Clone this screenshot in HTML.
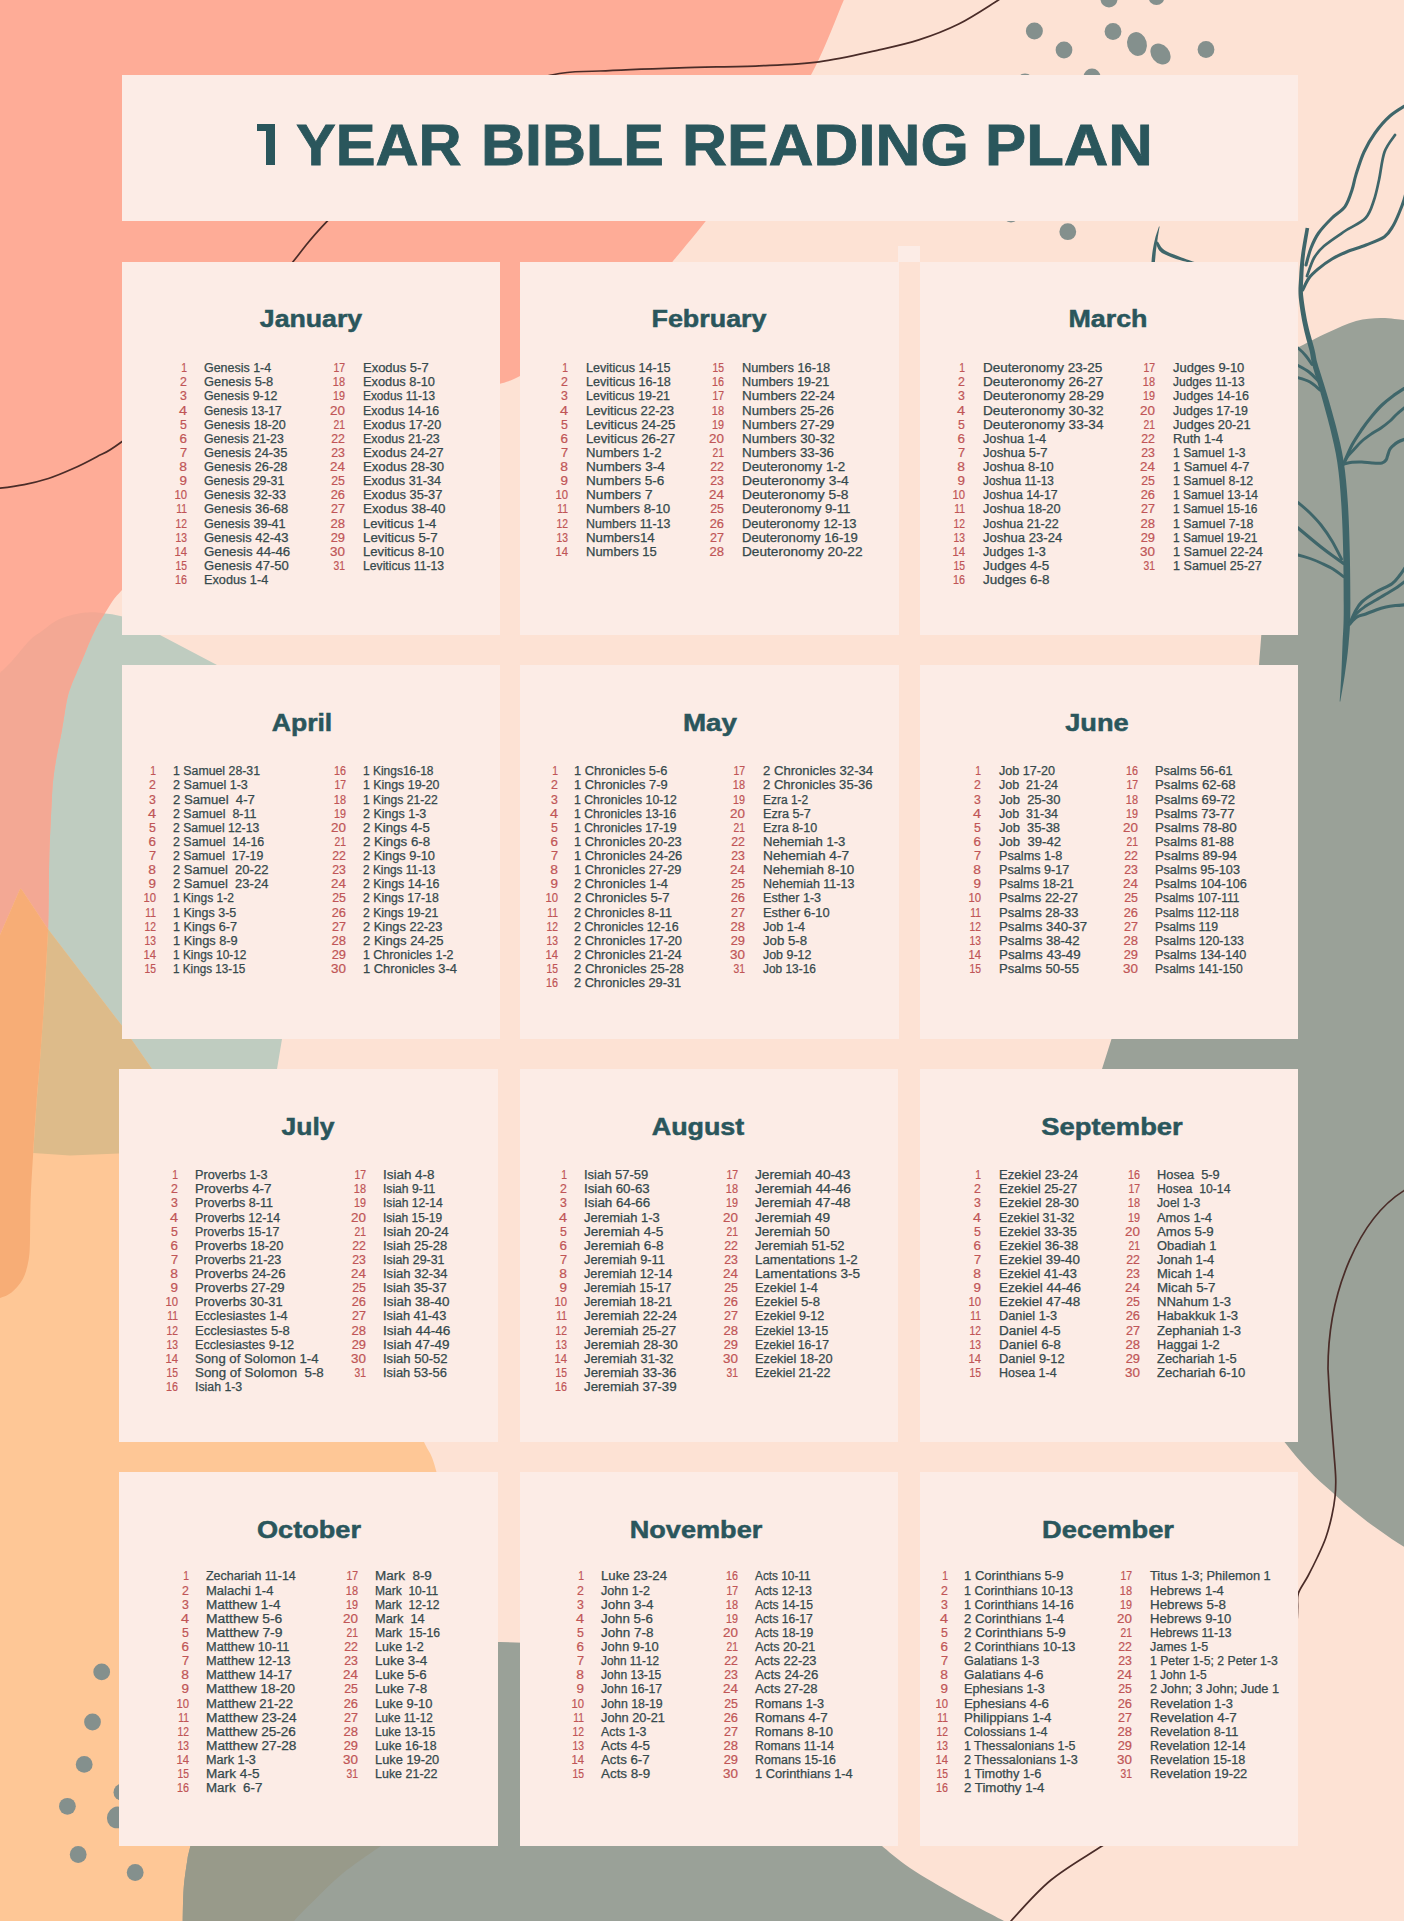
<!DOCTYPE html>
<html lang="en"><head><meta charset="utf-8"><title>1 Year Bible Reading Plan</title>
<style>
html,body{margin:0;padding:0}
body{width:1404px;height:1921px;overflow:hidden;background:#FDE2D4;font-family:"Liberation Sans",sans-serif}
#page{position:relative;width:1404px;height:1921px;overflow:hidden}
.bg{position:absolute;left:0;top:0}
.panel{position:absolute;background:#FCECE6;margin:0}
.sq{position:absolute;left:898px;top:246px;width:22px;height:16px;background:#FCECE6}
.title{position:absolute;left:0;top:115.1px;width:1404px;height:60px;margin:0;font-weight:bold;color:#2A565C;font-size:57.5px;line-height:60px;white-space:nowrap;-webkit-text-stroke:0.8px #2A565C}
.title span{position:absolute;top:0;display:block;transform-origin:0 50%}
.mh{-webkit-text-stroke:0.5px #2A565C;position:absolute;width:300px;height:40px;margin:0;text-align:center;font-weight:bold;font-size:24px;line-height:40px;color:#2A565C;white-space:nowrap}
.lst{position:absolute;list-style:none;margin:0;padding:0;font-size:12px;line-height:14.13px;color:#35494C;white-space:pre}
.lst li{height:14.13px;display:flex}
.lst b{display:block;width:30px;text-align:right;font-weight:normal;color:#C05556;margin-right:var(--g);transform-origin:100% 50%;-webkit-text-stroke:0.2px #C05556}
.lst span{display:block;transform-origin:0 50%;-webkit-text-stroke:0.25px #35494C}
.title .one{color:transparent;width:19px;-webkit-text-stroke:0 transparent}
.title .one::before{content:"";position:absolute;left:0;top:9.4px;width:18.2px;height:7px;background:#2A565C}
.title .one::after{content:"";position:absolute;left:8.6px;top:9.4px;width:9.6px;height:41px;background:#2A565C}

</style></head><body>
<div id="page">
<svg class="bg" width="1404" height="1921" viewBox="0 0 1404 1921">
<rect width="1404" height="1921" fill="#FDE2D4"/>
<path fill="#BFCCC0" d="M60.0,613.5 L104.8,613.5 L112.0,614.2 L121.5,616.2 L160.0,635.0 L217.0,665.0 L330.0,760.0 L380.0,900.0 L282.0,1039.0 L277.0,1069.0 L270.0,1156.0 L119.0,1153.6 L70.0,1155.5 L33.0,1152.5 L20.0,1000.0 L40.0,700.0 Z"/>
<path fill="#FEAC97" d="M0,0 L843.8,0 C838.3,12.5 824.6,50.3 811.0,75.0 C797.4,99.7 779.4,123.8 762.0,148.0 C744.6,172.2 721.6,201.0 706.6,220.0 C691.6,239.0 678.0,255.0 672.3,262.0 C661.9,270.5 628.7,298.3 610.0,313.0 C591.3,327.7 575.0,339.5 560.0,350.0 C545.0,360.5 530.0,370.4 520.0,376.0 C510.0,381.6 503.3,382.5 500.0,383.8 C380.4,434.5 187.6,514.5 122,590 C120.5,591.7 116.2,596.1 113.3,600.0 C110.4,603.9 107.4,609.3 104.8,613.5 C102.2,617.7 100.1,620.6 97.7,625.0 C95.3,629.4 92.9,634.7 90.5,640.0 C88.1,645.3 85.8,651.4 83.4,657.0 C81.0,662.6 78.3,668.6 76.3,673.4 C74.3,678.1 72.8,681.1 71.3,685.5 C69.8,689.9 68.6,692.5 67.0,700.0 C65.4,707.5 63.5,721.5 61.9,730.4 C60.3,739.3 58.7,745.7 57.3,753.3 C55.9,760.9 54.5,768.4 53.6,776.2 C52.7,784.0 52.5,786.0 51.8,800.0 C51.1,814.0 49.8,838.5 49.2,860.0 C48.6,881.5 48.9,906.0 48.1,929.3 C47.3,952.6 45.6,978.2 44.2,1000.0 C42.9,1021.8 41.2,1043.3 40.0,1060.0 C38.8,1076.7 37.8,1084.5 36.7,1100.0 C35.6,1115.5 34.2,1136.3 33.2,1153.0 C32.2,1169.7 31.1,1185.5 30.6,1200.0 C30.1,1214.5 30.3,1230.0 30.0,1240.0 C29.7,1250.0 29.8,1253.5 28.6,1260.0 C27.4,1266.5 25.9,1273.3 23.0,1278.7 C20.1,1284.1 15.3,1289.2 11.5,1292.4 C7.7,1295.6 1.9,1297.1 0.0,1298.0 Z"/>
<path fill="#F3A894" d="M0,673 C1.9,671.1 6.5,667.1 11.5,661.6 C16.5,656.1 25.1,644.9 30.0,640.0 C34.9,635.1 36.5,635.1 40.7,632.0 C44.9,628.9 50.2,624.1 55.0,621.4 C59.8,618.7 64.5,617.1 69.2,615.7 C73.9,614.3 79.3,613.4 83.4,612.8 C87.5,612.2 90.4,612.1 94.0,612.2 C97.6,612.3 103.0,613.3 104.8,613.5 C103.6,615.4 100.1,620.6 97.7,625.0 C95.3,629.4 92.9,634.7 90.5,640.0 C88.1,645.3 85.8,651.4 83.4,657.0 C81.0,662.6 78.3,668.6 76.3,673.4 C74.3,678.1 72.8,681.1 71.3,685.5 C69.8,689.9 68.6,692.5 67.0,700.0 C65.4,707.5 63.5,721.5 61.9,730.4 C60.3,739.3 58.7,745.7 57.3,753.3 C55.9,760.9 54.5,768.4 53.6,776.2 C52.7,784.0 52.5,786.0 51.8,800.0 C51.1,814.0 49.8,838.5 49.2,860.0 C48.6,881.5 48.9,906.0 48.1,929.3 C47.3,952.6 45.6,978.2 44.2,1000.0 C42.9,1021.8 41.2,1043.3 40.0,1060.0 C38.8,1076.7 37.8,1084.5 36.7,1100.0 C35.6,1115.5 34.2,1136.3 33.2,1153.0 C32.2,1169.7 31.1,1185.5 30.6,1200.0 C30.1,1214.5 30.3,1230.0 30.0,1240.0 C29.7,1250.0 29.8,1253.5 28.6,1260.0 C27.4,1266.5 25.9,1273.3 23.0,1278.7 C20.1,1284.1 15.3,1289.2 11.5,1292.4 C7.7,1295.6 1.9,1297.1 0.0,1298.0 Z"/>
<path fill="#FEC796" d="M0,935 L19.6,890 Q20.8,887.5 22,890 L48.1,929.3 L121.8,1025.6 L152.0,1069.0 L260.0,1210.0 L360.0,1340.0 L410.0,1412.0 C412.3,1417.0 419.6,1432.0 424.0,1442.0 C428.4,1452.0 431.8,1452.3 436.5,1472.0 C441.2,1491.7 451.4,1522.0 452.0,1560.0 C452.6,1598.0 451.9,1652.3 440.0,1700.0 C428.1,1747.7 397.1,1817.0 380.8,1846.0 C364.5,1875.0 353.2,1864.8 342.0,1874.0 C330.8,1883.2 321.5,1893.2 313.5,1901.0 C305.5,1908.8 297.2,1917.7 294.0,1921.0 L0,1921 Z"/>
<path fill="#DDBB8A" d="M48.1,929.3 L121.8,1025.6 L152,1069 L220,1156 L119,1153.6 L70,1155.5 L33.2,1153 L36.7,1100 L40,1060 L44.2,1000 Z"/>
<path fill="#F7AD76" d="M0,935 L19.6,890 Q20.8,887.5 22,890 L48.1,929.3 C47.5,941.1 45.6,978.2 44.2,1000.0 C42.9,1021.8 41.2,1043.3 40.0,1060.0 C38.8,1076.7 37.8,1084.5 36.7,1100.0 C35.6,1115.5 34.2,1136.3 33.2,1153.0 C32.2,1169.7 31.1,1185.5 30.6,1200.0 C30.1,1214.5 30.3,1230.0 30.0,1240.0 C29.7,1250.0 29.8,1253.5 28.6,1260.0 C27.4,1266.5 25.9,1273.3 23.0,1278.7 C20.1,1284.1 15.3,1289.2 11.5,1292.4 C7.7,1295.6 1.9,1297.1 0.0,1298.0 Z"/>
<path fill="#9AA198" d="M1298,347.6 C1303.0,345.1 1318.3,337.0 1328.0,332.6 C1337.7,328.2 1347.2,323.4 1356.0,321.0 C1364.8,318.6 1372.7,318.2 1380.7,318.0 C1388.7,317.8 1400.1,319.7 1404.0,320.0 L1416,1554 C1414.0,1552.8 1408.0,1549.2 1404.0,1546.7 C1400.0,1544.2 1395.8,1541.7 1391.7,1539.0 C1387.7,1536.3 1383.7,1533.3 1379.7,1530.5 C1375.7,1527.7 1371.7,1525.0 1367.7,1522.0 C1363.7,1519.0 1359.8,1515.8 1355.8,1512.6 C1351.8,1509.4 1348.0,1506.4 1344.0,1503.0 C1340.0,1499.6 1336.0,1495.6 1332.0,1492.0 C1328.0,1488.4 1324.0,1485.2 1320.0,1481.5 C1316.0,1477.8 1312.0,1473.7 1308.0,1469.5 C1304.0,1465.3 1299.9,1460.9 1296.0,1456.3 C1292.1,1451.7 1288.5,1446.7 1284.5,1442.0 C1280.5,1437.3 1274.1,1430.3 1272.0,1428.0 L1200,1300 L1102,1069 L1111.5,1039 L1259,665 L1261.3,635 L1280,500 Z"/>
<path fill="#9AA198" d="M182.5,1935 C182.5,1932.7 182.5,1928.8 182.7,1921.0 C182.9,1913.2 182.9,1898.3 183.7,1888.0 C184.5,1877.7 186.4,1866.0 187.5,1859.0 C188.6,1852.0 187.5,1859.2 190.4,1846.0 C193.3,1832.8 193.4,1804.3 205.0,1780.0 C216.6,1755.7 234.2,1721.7 260.0,1700.0 C285.8,1678.3 320.0,1659.7 360.0,1650.0 C400.0,1640.3 476.7,1643.3 500.0,1642.0 L530,1643 L700,1660 L882,1846 C886.7,1849.7 897.5,1859.7 910.0,1868.0 C922.5,1876.3 941.3,1887.2 957.0,1896.0 C972.7,1904.8 996.2,1916.8 1004.0,1921.0 Z"/>
<path fill="#989A8A" d="M182.5,1935 C182.5,1932.7 182.5,1928.8 182.7,1921.0 C182.9,1913.2 182.9,1898.3 183.7,1888.0 C184.5,1877.7 186.4,1866.0 187.5,1859.0 C188.6,1852.0 189.9,1848.2 190.4,1846.0 L380.8,1846 C374.3,1850.7 353.2,1864.8 342.0,1874.0 C330.8,1883.2 321.5,1893.2 313.5,1901.0 C305.5,1908.8 298.8,1915.3 294.0,1921.0 C289.2,1926.7 286.5,1932.7 285.0,1935.0 Z"/>
<circle cx="1034.4" cy="31" r="8.5" fill="#84908D"/>
<circle cx="1064" cy="50" r="8.4" fill="#84908D"/>
<circle cx="1113" cy="31.5" r="8.4" fill="#84908D"/>
<circle cx="1206" cy="49.5" r="8.4" fill="#84908D"/>
<circle cx="1109" cy="-1" r="8.5" fill="#84908D"/>
<circle cx="1156.5" cy="-3" r="8" fill="#84908D"/>
<circle cx="1025" cy="82" r="8.5" fill="#84908D"/>
<circle cx="1092" cy="77" r="8.5" fill="#84908D"/>
<circle cx="1067.8" cy="231.7" r="8.4" fill="#84908D"/>
<circle cx="1011" cy="214" r="8.5" fill="#84908D"/>
<circle cx="101.7" cy="1671.9" r="8.4" fill="#84908D"/>
<circle cx="92.5" cy="1722" r="8.4" fill="#84908D"/>
<circle cx="84.2" cy="1764.4" r="8.4" fill="#84908D"/>
<circle cx="67.4" cy="1806.3" r="8.4" fill="#84908D"/>
<circle cx="78.2" cy="1854.5" r="8.4" fill="#84908D"/>
<circle cx="135.2" cy="1872.5" r="8.4" fill="#84908D"/>
<circle cx="122" cy="1792.3" r="8.5" fill="#84908D"/>
<ellipse cx="1137" cy="44" rx="9.8" ry="12" fill="#84908D" transform="rotate(-15 1137 44)"/>
<ellipse cx="1160.5" cy="54" rx="9" ry="11.5" fill="#84908D" transform="rotate(-40 1160.5 54)"/>
<ellipse cx="117" cy="1817.4" rx="10" ry="11" fill="#84908D" transform="rotate(20 117 1817.4)"/>
<path fill="none" stroke="#4A2C28" stroke-width="1.7" d="M-20.0,490.0 C-16.7,489.7 -7.4,489.1 0.0,488.2 C7.4,487.3 16.1,486.2 24.2,484.6 C32.3,483.0 40.3,481.1 48.4,478.5 C56.5,475.9 64.6,472.4 72.7,468.8 C80.8,465.2 88.8,461.1 96.9,456.7 C105.0,452.3 103.9,454.8 121.1,442.2 C138.3,429.6 171.3,411.1 200.0,381.0 C228.7,350.9 271.8,288.4 293.0,261.8 C314.2,235.2 309.2,239.9 327.0,221.3 C344.8,202.7 376.2,170.2 400.0,150.0 C423.8,129.8 444.7,112.5 470.0,100.0 C495.3,87.5 530.2,79.8 551.8,75.0 C573.4,70.2 578.4,72.2 599.7,71.0 C621.0,69.8 652.9,68.7 679.4,67.8 C705.9,66.9 735.7,66.8 759.0,65.8 C782.3,64.8 799.0,64.5 819.0,61.8 C839.0,59.1 862.4,53.5 879.0,49.9 C895.6,46.2 905.5,44.2 918.8,39.9 C932.1,35.6 945.4,30.6 958.7,24.0 C972.0,17.4 988.3,6.3 998.5,0.0 C1008.7,-6.3 1016.4,-11.7 1020.0,-14.0"/>
<path fill="none" stroke="#4A2C28" stroke-width="1.7" d="M1428,1174 L1404,1190.6 C1360,1218 1328,1290 1328,1368.7 C1328.3,1373.9 1329.1,1389.6 1329.8,1400.0 C1330.5,1410.4 1331.5,1422.0 1332.2,1431.0 C1332.9,1440.0 1333.4,1446.2 1334.0,1454.0 C1334.6,1461.8 1335.5,1470.8 1335.7,1478.0 C1335.9,1485.2 1335.7,1490.7 1335.0,1497.0 C1334.3,1503.3 1333.3,1509.2 1331.8,1516.0 C1330.3,1522.8 1328.2,1530.9 1325.8,1537.7 C1323.4,1544.5 1320.5,1550.6 1317.5,1557.0 C1314.5,1563.4 1311.2,1569.9 1308.0,1576.0 C1304.8,1582.1 1300.0,1588.1 1298.3,1593.4 C1296.6,1598.7 1297.9,1602.7 1297.6,1608.0 C1297.3,1613.3 1297.9,1613.0 1296.6,1625.0 C1295.3,1637.0 1301.1,1655.8 1290.0,1680.0 C1278.9,1704.2 1253.3,1747.5 1230.0,1770.0 C1206.7,1792.5 1171.3,1802.3 1150.0,1815.0 C1128.7,1827.7 1118.5,1835.2 1102.0,1846.0 C1085.5,1856.8 1066.2,1867.5 1051.0,1880.0 C1035.8,1892.5 1019.5,1911.8 1011.0,1921.0 C1002.5,1930.2 1001.8,1932.7 1000.0,1935.0"/>
<path fill="#3F666A" d="M1305.6,227.7 C1304.9,232.2 1302.2,246.4 1301.1,254.8 C1300.0,263.1 1299.5,270.8 1299.1,277.9 C1298.7,285.0 1298.1,289.3 1298.7,297.2 C1299.4,305.1 1301.3,316.6 1303.1,325.5 C1304.8,334.4 1307.9,344.0 1309.5,350.6 C1311.0,357.2 1310.6,358.3 1312.4,365.2 C1314.2,372.1 1317.3,381.4 1320.2,391.8 C1323.1,402.2 1327.1,416.0 1330.0,427.7 C1332.8,439.5 1335.5,450.0 1337.3,462.5 C1339.2,475.0 1340.2,487.6 1341.2,502.7 C1342.2,517.8 1342.8,534.5 1343.2,553.1 C1343.6,571.6 1343.8,598.7 1343.7,614.0 C1343.6,629.2 1342.9,634.3 1342.5,644.4 C1342.1,654.5 1341.8,665.3 1341.3,674.8 C1340.8,684.3 1340.0,696.9 1339.7,701.4 L1340.3,701.4 C1341.0,697.1 1343.3,684.6 1344.7,675.2 C1346.1,665.7 1347.6,655.0 1348.5,644.8 C1349.4,634.6 1350.1,629.3 1350.3,614.0 C1350.5,598.7 1350.2,571.6 1349.8,552.9 C1349.4,534.3 1348.8,517.5 1347.8,502.3 C1346.8,487.0 1345.6,474.2 1343.7,461.5 C1341.7,448.8 1339.0,438.1 1336.0,426.3 C1333.0,414.4 1328.9,400.6 1325.8,390.2 C1322.7,379.8 1319.5,370.6 1317.6,363.8 C1315.7,357.0 1316.1,355.9 1314.5,349.4 C1312.9,342.8 1309.8,333.3 1307.9,324.5 C1306.1,315.7 1304.1,304.5 1303.3,296.8 C1302.5,289.1 1303.0,285.0 1303.3,278.1 C1303.6,271.2 1303.9,263.5 1304.9,255.2 C1305.9,246.9 1308.5,232.8 1309.2,228.3 Z"/>
<path fill="none" stroke="#3F666A" stroke-width="3.1" stroke-linecap="round" stroke-linejoin="round" d="M1306.0,265.0 C1306.8,262.2 1308.9,253.3 1311.0,248.0 C1313.1,242.7 1315.1,238.0 1318.6,233.0 C1322.1,228.0 1327.6,222.4 1332.0,218.0 C1336.4,213.6 1341.7,211.3 1345.0,206.6 C1348.3,201.9 1350.2,195.3 1352.0,190.0 C1353.8,184.7 1354.0,180.9 1356.0,174.6 C1358.0,168.3 1360.8,158.9 1364.0,152.0 C1367.2,145.1 1370.7,139.0 1375.0,133.0 C1379.3,127.0 1384.5,120.8 1390.0,116.0 C1395.5,111.2 1405.0,106.0 1408.0,104.0" />
<path fill="none" stroke="#3F666A" stroke-width="2.7" stroke-linecap="round" stroke-linejoin="round" d="M1307.0,276.0 C1308.2,273.0 1311.2,263.0 1314.0,258.0 C1316.8,253.0 1318.8,250.5 1324.0,246.0 C1329.2,241.5 1338.1,235.7 1345.0,231.0 C1351.9,226.3 1360.8,223.2 1365.6,218.0 C1370.4,212.8 1371.8,206.3 1374.0,200.0 C1376.2,193.7 1377.2,188.0 1379.0,180.0 C1380.8,172.0 1381.8,159.5 1384.5,152.0 C1387.2,144.5 1393.2,137.8 1395.0,135.0" />
<path fill="none" stroke="#3F666A" stroke-width="3.1" stroke-linecap="round" stroke-linejoin="round" d="M1302.7,290.0 C1303.8,288.0 1306.3,281.6 1309.0,278.0 C1311.7,274.4 1314.8,271.8 1318.6,268.6 C1322.4,265.4 1327.3,261.8 1332.0,259.0 C1336.7,256.2 1341.3,254.0 1347.0,251.7 C1352.7,249.4 1359.8,247.5 1366.0,245.0 C1372.2,242.5 1380.0,239.9 1384.5,236.7 C1389.0,233.5 1390.5,230.1 1393.0,226.0 C1395.5,221.9 1397.7,216.3 1399.5,212.0 C1401.3,207.7 1402.6,204.5 1404.0,200.0 C1405.4,195.5 1407.3,187.5 1408.0,185.0" />
<path fill="#3F666A" d="M1159.0,226.4 C1158.4,228.3 1156.4,233.9 1155.3,237.8 C1154.3,241.6 1153.4,245.8 1152.8,249.8 C1152.1,253.8 1151.7,259.2 1151.5,261.8 C1151.2,264.5 1151.3,265.2 1151.3,265.9 L1154.7,266.1 C1154.8,265.4 1154.7,264.8 1154.9,262.2 C1155.2,259.5 1155.6,254.2 1156.0,250.2 C1156.5,246.2 1157.1,242.2 1157.7,238.2 C1158.3,234.3 1159.3,228.5 1159.6,226.6 Z"/>
<path fill="#3F666A" d="M1155.7,242.6 C1156.2,243.9 1157.6,248.4 1159.2,250.4 C1160.8,252.4 1163.0,253.4 1165.1,254.6 C1167.3,255.8 1169.5,256.5 1172.1,257.4 C1174.6,258.4 1177.5,259.4 1180.5,260.3 C1183.5,261.2 1187.5,262.1 1190.2,262.8 C1192.9,263.4 1195.7,263.9 1196.8,264.1 L1197.2,262.9 C1196.1,262.6 1193.4,261.7 1190.8,260.8 C1188.2,259.9 1184.4,258.6 1181.5,257.5 C1178.6,256.4 1175.8,255.2 1173.3,254.2 C1170.9,253.2 1168.8,252.4 1166.9,251.4 C1165.0,250.4 1163.5,249.7 1162.0,248.0 C1160.5,246.4 1158.6,242.5 1157.9,241.4 Z"/>
<path fill="none" stroke="#3F666A" stroke-width="2.9" stroke-linecap="round" stroke-linejoin="round" d="M1290.0,343.0 C1291.3,343.8 1295.3,345.8 1298.0,348.0 C1300.7,350.2 1303.7,353.2 1306.0,356.0 C1308.3,358.8 1311.0,363.1 1312.0,364.5" />
<path fill="none" stroke="#3F666A" stroke-width="2.9" stroke-linecap="round" stroke-linejoin="round" d="M1290.0,362.0 C1291.3,362.6 1294.8,363.8 1298.0,365.5 C1301.2,367.2 1305.7,369.5 1309.0,372.0 C1312.3,374.5 1316.5,379.2 1318.0,380.7" />
<path fill="none" stroke="#3F666A" stroke-width="2.9" stroke-linecap="round" stroke-linejoin="round" d="M1290.0,376.5 C1291.3,376.7 1294.7,376.8 1298.0,377.7 C1301.3,378.6 1306.3,379.9 1310.0,382.0 C1313.7,384.1 1318.3,388.7 1320.0,390.0" />
<path fill="none" stroke="#3F666A" stroke-width="3.1" stroke-linecap="round" stroke-linejoin="round" d="M1343.5,464.0 C1344.9,460.8 1349.0,450.8 1352.0,445.0 C1355.0,439.2 1358.5,434.3 1361.8,429.5 C1365.1,424.7 1368.6,420.1 1372.0,416.0 C1375.4,411.9 1378.5,408.3 1382.0,405.0 C1385.5,401.7 1388.7,399.2 1393.0,396.0 C1397.3,392.8 1405.5,387.7 1408.0,386.0" />
<path fill="none" stroke="#3F666A" stroke-width="2.9" stroke-linecap="round" stroke-linejoin="round" d="M1343.5,464.0 C1344.2,462.7 1346.3,458.4 1348.0,456.0 C1349.7,453.6 1351.4,452.2 1353.7,449.7 C1356.0,447.2 1359.0,443.7 1362.0,441.0 C1365.0,438.3 1368.8,435.7 1372.0,433.5 C1375.2,431.3 1378.0,430.1 1381.0,428.0 C1384.0,425.9 1387.3,423.3 1390.0,421.0 C1392.7,418.7 1394.0,416.7 1397.0,414.0 C1400.0,411.3 1406.2,406.5 1408.0,405.0" />
<path fill="none" stroke="#3F666A" stroke-width="3.1" stroke-linecap="round" stroke-linejoin="round" d="M1343.5,464.0 C1344.9,463.7 1349.0,462.6 1352.0,462.3 C1355.0,462.0 1358.5,461.9 1361.8,462.0 C1365.1,462.1 1368.6,462.8 1372.0,463.0 C1375.4,463.2 1379.7,463.5 1382.0,463.0 C1384.3,462.5 1385.1,461.2 1386.0,460.0 C1386.9,458.8 1386.9,457.7 1387.5,456.0 C1388.1,454.3 1388.8,451.6 1389.5,450.0 C1390.2,448.4 1390.6,448.0 1392.0,446.7 C1393.4,445.4 1395.3,443.4 1398.0,442.0 C1400.7,440.6 1406.3,438.7 1408.0,438.0" />
<path fill="none" stroke="#3F666A" stroke-width="2.9" stroke-linecap="round" stroke-linejoin="round" d="M1290.0,497.0 C1291.3,497.9 1294.7,499.8 1298.0,502.5 C1301.3,505.2 1306.2,509.2 1310.0,513.0 C1313.8,516.8 1317.3,520.3 1321.0,525.0 C1324.7,529.7 1328.6,535.3 1332.0,541.0 C1335.4,546.7 1339.9,556.0 1341.5,559.0" />
<path fill="none" stroke="#3F666A" stroke-width="3.3" stroke-linecap="round" stroke-linejoin="round" d="M1290.0,522.0 C1291.3,523.0 1294.7,525.3 1298.0,528.0 C1301.3,530.7 1306.2,534.8 1310.0,538.0 C1313.8,541.2 1317.2,544.0 1321.0,547.0 C1324.8,550.0 1329.2,553.3 1333.0,556.0 C1336.8,558.7 1341.8,562.2 1343.5,563.4" />
<path fill="none" stroke="#3F666A" stroke-width="2.9" stroke-linecap="round" stroke-linejoin="round" d="M1290.0,553.5 C1291.3,553.8 1294.7,554.2 1298.0,555.0 C1301.3,555.8 1306.2,557.2 1310.0,558.5 C1313.8,559.8 1317.2,561.2 1321.0,563.0 C1324.8,564.8 1329.2,566.7 1333.0,569.0 C1336.8,571.3 1341.8,575.3 1343.5,576.6" />
<path fill="none" stroke="#3F666A" stroke-width="3.1" stroke-linecap="round" stroke-linejoin="round" d="M1349.6,624.0 C1350.5,622.0 1353.0,615.7 1355.0,612.0 C1357.0,608.3 1358.3,605.3 1361.8,602.0 C1365.3,598.7 1371.0,595.0 1376.0,592.0 C1381.0,589.0 1388.0,586.5 1392.0,583.7 C1396.0,580.9 1397.3,578.5 1400.0,575.0 C1402.7,571.5 1406.7,565.0 1408.0,563.0" />
<path fill="none" stroke="#3F666A" stroke-width="2.9" stroke-linecap="round" stroke-linejoin="round" d="M1349.6,624.0 C1350.8,622.2 1354.3,616.0 1357.0,613.0 C1359.7,610.0 1362.6,608.2 1365.8,606.0 C1369.0,603.8 1372.6,602.0 1376.0,600.0 C1379.4,598.0 1382.7,596.0 1386.0,594.0 C1389.3,592.0 1392.3,590.5 1396.0,588.0 C1399.7,585.5 1406.0,580.5 1408.0,579.0" />
<path fill="none" stroke="#3F666A" stroke-width="3.1" stroke-linecap="round" stroke-linejoin="round" d="M1349.6,624.0 C1350.8,622.8 1354.3,618.7 1357.0,617.0 C1359.7,615.3 1362.6,615.2 1365.8,614.0 C1369.0,612.8 1372.6,611.2 1376.0,610.0 C1379.4,608.8 1382.7,607.8 1386.0,607.0 C1389.3,606.2 1392.3,605.9 1396.0,605.5 C1399.7,605.1 1406.0,604.7 1408.0,604.5" />
</svg>
<div class="panel" style="left:122px;top:75px;width:1175.5px;height:145.6px"></div>
<div class="sq"></div>
<h1 class="title"><span class="one" style="left:257.1px">1</span> <span style="left:295.96px;transform:scaleX(1.0367)">YEAR</span> <span style="left:480.79px;transform:scaleX(1.0599)">BIBLE</span> <span style="left:681.50px;transform:scaleX(1.0822)">READING</span> <span style="left:984.95px;transform:scaleX(1.0727)">PLAN</span></h1>
<section class="panel" style="left:121.5px;top:262px;width:378.5px;height:373px"></section>
<h2 class="mh" style="left:161.1px;top:298.8px;transform:scaleX(1.111)">January</h2>
<ol class="lst" style="left:156.8px;top:361.24px;--g:17.7px"><li><b style="transform:scaleX(0.860)">1</b><span style="transform:scaleX(1.038)">Genesis 1-4</span></li><li><b style="transform:scaleX(1.030)">2</b><span style="transform:scaleX(1.070)">Genesis 5-8</span></li><li><b style="transform:scaleX(1.030)">3</b><span style="transform:scaleX(1.029)">Genesis 9-12</span></li><li><b style="transform:scaleX(1.207)">4</b><span style="transform:scaleX(0.994)">Genesis 13-17</span></li><li><b style="transform:scaleX(1.030)">5</b><span style="transform:scaleX(1.048)">Genesis 18-20</span></li><li><b style="transform:scaleX(1.119)">6</b><span style="transform:scaleX(1.022)">Genesis 21-23</span></li><li><b style="transform:scaleX(1.065)">7</b><span style="transform:scaleX(1.067)">Genesis 24-35</span></li><li><b style="transform:scaleX(1.154)">8</b><span style="transform:scaleX(1.070)">Genesis 26-28</span></li><li><b style="transform:scaleX(1.119)">9</b><span style="transform:scaleX(1.029)">Genesis 29-31</span></li><li><b style="transform:scaleX(0.941)">10</b><span style="transform:scaleX(1.052)">Genesis 32-33</span></li><li><b style="transform:scaleX(0.860)">11</b><span style="transform:scaleX(1.078)">Genesis 36-68</span></li><li><b style="transform:scaleX(0.860)">12</b><span style="transform:scaleX(1.045)">Genesis 39-41</span></li><li><b style="transform:scaleX(0.860)">13</b><span style="transform:scaleX(1.083)">Genesis 42-43</span></li><li><b style="transform:scaleX(0.941)">14</b><span style="transform:scaleX(1.105)">Genesis 44-46</span></li><li><b style="transform:scaleX(0.860)">15</b><span style="transform:scaleX(1.086)">Genesis 47-50</span></li><li><b style="transform:scaleX(0.897)">16</b><span style="transform:scaleX(1.058)">Exodus 1-4</span></li></ol>
<ol class="lst" style="left:315.3px;top:361.24px;--g:18.2px"><li><b style="transform:scaleX(0.870)">17</b><span style="transform:scaleX(1.081)">Exodus 5-7</span></li><li><b style="transform:scaleX(0.914)">18</b><span style="transform:scaleX(1.068)">Exodus 8-10</span></li><li><b style="transform:scaleX(0.897)">19</b><span style="transform:scaleX(0.985)">Exodus 11-13</span></li><li><b style="transform:scaleX(1.119)">20</b><span style="transform:scaleX(1.029)">Exodus 14-16</span></li><li><b style="transform:scaleX(0.860)">21</b><span style="transform:scaleX(1.056)">Exodus 17-20</span></li><li><b style="transform:scaleX(1.030)">22</b><span style="transform:scaleX(1.037)">Exodus 21-23</span></li><li><b style="transform:scaleX(1.030)">23</b><span style="transform:scaleX(1.088)">Exodus 24-27</span></li><li><b style="transform:scaleX(1.119)">24</b><span style="transform:scaleX(1.096)">Exodus 28-30</span></li><li><b style="transform:scaleX(1.030)">25</b><span style="transform:scaleX(1.053)">Exodus 31-34</span></li><li><b style="transform:scaleX(1.074)">26</b><span style="transform:scaleX(1.072)">Exodus 35-37</span></li><li><b style="transform:scaleX(1.048)">27</b><span style="transform:scaleX(1.112)">Exodus 38-40</span></li><li><b style="transform:scaleX(1.092)">28</b><span style="transform:scaleX(1.087)">Leviticus 1-4</span></li><li><b style="transform:scaleX(1.074)">29</b><span style="transform:scaleX(1.108)">Leviticus 5-7</span></li><li><b style="transform:scaleX(1.119)">30</b><span style="transform:scaleX(1.093)">Leviticus 8-10</span></li><li><b style="transform:scaleX(0.860)">31</b><span style="transform:scaleX(1.015)">Leviticus 11-13</span></li></ol>
<section class="panel" style="left:520px;top:262px;width:378.5px;height:373px"></section>
<h2 class="mh" style="left:559.2px;top:298.8px;transform:scaleX(1.120)">February</h2>
<ol class="lst" style="left:537.8px;top:361.24px;--g:18.2px"><li><b style="transform:scaleX(0.860)">1</b><span style="transform:scaleX(1.048)">Leviticus 14-15</span></li><li><b style="transform:scaleX(1.030)">2</b><span style="transform:scaleX(1.051)">Leviticus 16-18</span></li><li><b style="transform:scaleX(1.030)">3</b><span style="transform:scaleX(1.041)">Leviticus 19-21</span></li><li><b style="transform:scaleX(1.207)">4</b><span style="transform:scaleX(1.092)">Leviticus 22-23</span></li><li><b style="transform:scaleX(1.030)">5</b><span style="transform:scaleX(1.107)">Leviticus 24-25</span></li><li><b style="transform:scaleX(1.119)">6</b><span style="transform:scaleX(1.103)">Leviticus 26-27</span></li><li><b style="transform:scaleX(1.065)">7</b><span style="transform:scaleX(1.087)">Numbers 1-2</span></li><li><b style="transform:scaleX(1.154)">8</b><span style="transform:scaleX(1.138)">Numbers 3-4</span></li><li><b style="transform:scaleX(1.119)">9</b><span style="transform:scaleX(1.129)">Numbers 5-6</span></li><li><b style="transform:scaleX(0.941)">10</b><span style="transform:scaleX(1.133)">Numbers 7</span></li><li><b style="transform:scaleX(0.860)">11</b><span style="transform:scaleX(1.108)">Numbers 8-10</span></li><li><b style="transform:scaleX(0.860)">12</b><span style="transform:scaleX(1.031)">Numbers 11-13</span></li><li><b style="transform:scaleX(0.860)">13</b><span style="transform:scaleX(1.108)">Numbers14</span></li><li><b style="transform:scaleX(0.941)">14</b><span style="transform:scaleX(1.082)">Numbers 15</span></li></ol>
<ol class="lst" style="left:694.3px;top:361.24px;--g:17.7px"><li><b style="transform:scaleX(0.860)">15</b><span style="transform:scaleX(1.066)">Numbers 16-18</span></li><li><b style="transform:scaleX(0.897)">16</b><span style="transform:scaleX(1.056)">Numbers 19-21</span></li><li><b style="transform:scaleX(0.870)">17</b><span style="transform:scaleX(1.120)">Numbers 22-24</span></li><li><b style="transform:scaleX(0.914)">18</b><span style="transform:scaleX(1.113)">Numbers 25-26</span></li><li><b style="transform:scaleX(0.897)">19</b><span style="transform:scaleX(1.116)">Numbers 27-29</span></li><li><b style="transform:scaleX(1.119)">20</b><span style="transform:scaleX(1.120)">Numbers 30-32</span></li><li><b style="transform:scaleX(0.860)">21</b><span style="transform:scaleX(1.113)">Numbers 33-36</span></li><li><b style="transform:scaleX(1.030)">22</b><span style="transform:scaleX(1.113)">Deuteronomy 1-2</span></li><li><b style="transform:scaleX(1.030)">23</b><span style="transform:scaleX(1.152)">Deuteronomy 3-4</span></li><li><b style="transform:scaleX(1.119)">24</b><span style="transform:scaleX(1.148)">Deuteronomy 5-8</span></li><li><b style="transform:scaleX(1.030)">25</b><span style="transform:scaleX(1.100)">Deuteronomy 9-11</span></li><li><b style="transform:scaleX(1.074)">26</b><span style="transform:scaleX(1.080)">Deuteronomy 12-13</span></li><li><b style="transform:scaleX(1.048)">27</b><span style="transform:scaleX(1.092)">Deuteronomy 16-19</span></li><li><b style="transform:scaleX(1.092)">28</b><span style="transform:scaleX(1.136)">Deuteronomy 20-22</span></li></ol>
<section class="panel" style="left:920px;top:262px;width:378px;height:373px"></section>
<h2 class="mh" style="left:958.2px;top:298.8px;transform:scaleX(1.118)">March</h2>
<ol class="lst" style="left:934.8px;top:361.24px;--g:18.2px"><li><b style="transform:scaleX(0.860)">1</b><span style="transform:scaleX(1.125)">Deuteronomy 23-25</span></li><li><b style="transform:scaleX(1.030)">2</b><span style="transform:scaleX(1.133)">Deuteronomy 26-27</span></li><li><b style="transform:scaleX(1.030)">3</b><span style="transform:scaleX(1.139)">Deuteronomy 28-29</span></li><li><b style="transform:scaleX(1.207)">4</b><span style="transform:scaleX(1.136)">Deuteronomy 30-32</span></li><li><b style="transform:scaleX(1.030)">5</b><span style="transform:scaleX(1.136)">Deuteronomy 33-34</span></li><li><b style="transform:scaleX(1.119)">6</b><span style="transform:scaleX(1.062)">Joshua 1-4</span></li><li><b style="transform:scaleX(1.065)">7</b><span style="transform:scaleX(1.086)">Joshua 5-7</span></li><li><b style="transform:scaleX(1.154)">8</b><span style="transform:scaleX(1.071)">Joshua 8-10</span></li><li><b style="transform:scaleX(1.119)">9</b><span style="transform:scaleX(0.987)">Joshua 11-13</span></li><li><b style="transform:scaleX(0.941)">10</b><span style="transform:scaleX(1.027)">Joshua 14-17</span></li><li><b style="transform:scaleX(0.860)">11</b><span style="transform:scaleX(1.067)">Joshua 18-20</span></li><li><b style="transform:scaleX(0.860)">12</b><span style="transform:scaleX(1.040)">Joshua 21-22</span></li><li><b style="transform:scaleX(0.860)">13</b><span style="transform:scaleX(1.089)">Joshua 23-24</span></li><li><b style="transform:scaleX(0.941)">14</b><span style="transform:scaleX(1.056)">Judges 1-3</span></li><li><b style="transform:scaleX(0.860)">15</b><span style="transform:scaleX(1.116)">Judges 4-5</span></li><li><b style="transform:scaleX(0.897)">16</b><span style="transform:scaleX(1.120)">Judges 6-8</span></li></ol>
<ol class="lst" style="left:1125.3px;top:361.24px;--g:17.7px"><li><b style="transform:scaleX(0.870)">17</b><span style="transform:scaleX(1.080)">Judges 9-10</span></li><li><b style="transform:scaleX(0.914)">18</b><span style="transform:scaleX(0.998)">Judges 11-13</span></li><li><b style="transform:scaleX(0.897)">19</b><span style="transform:scaleX(1.043)">Judges 14-16</span></li><li><b style="transform:scaleX(1.119)">20</b><span style="transform:scaleX(1.030)">Judges 17-19</span></li><li><b style="transform:scaleX(0.860)">21</b><span style="transform:scaleX(1.067)">Judges 20-21</span></li><li><b style="transform:scaleX(1.030)">22</b><span style="transform:scaleX(1.084)">Ruth 1-4</span></li><li><b style="transform:scaleX(1.030)">23</b><span style="transform:scaleX(1.016)">1 Samuel 1-3</span></li><li><b style="transform:scaleX(1.119)">24</b><span style="transform:scaleX(1.069)">1 Samuel 4-7</span></li><li><b style="transform:scaleX(1.030)">25</b><span style="transform:scaleX(1.028)">1 Samuel 8-12</span></li><li><b style="transform:scaleX(1.074)">26</b><span style="transform:scaleX(1.004)">1 Samuel 13-14</span></li><li><b style="transform:scaleX(1.048)">27</b><span style="transform:scaleX(0.997)">1 Samuel 15-16</span></li><li><b style="transform:scaleX(1.092)">28</b><span style="transform:scaleX(1.031)">1 Samuel 7-18</span></li><li><b style="transform:scaleX(1.074)">29</b><span style="transform:scaleX(0.997)">1 Samuel 19-21</span></li><li><b style="transform:scaleX(1.119)">30</b><span style="transform:scaleX(1.060)">1 Samuel 22-24</span></li><li><b style="transform:scaleX(0.860)">31</b><span style="transform:scaleX(1.049)">1 Samuel 25-27</span></li></ol>
<section class="panel" style="left:121.5px;top:665px;width:378.5px;height:374px"></section>
<h2 class="mh" style="left:152.0px;top:702.5px;transform:scaleX(1.107)">April</h2>
<ol class="lst" style="left:125.8px;top:764.33px;--g:17.7px"><li><b style="transform:scaleX(0.860)">1</b><span style="transform:scaleX(1.028)">1 Samuel 28-31</span></li><li><b style="transform:scaleX(1.030)">2</b><span style="transform:scaleX(1.049)">2 Samuel 1-3</span></li><li><b style="transform:scaleX(1.030)">3</b><span style="transform:scaleX(1.096)">2 Samuel  4-7</span></li><li><b style="transform:scaleX(1.207)">4</b><span style="transform:scaleX(1.036)">2 Samuel  8-11</span></li><li><b style="transform:scaleX(1.030)">5</b><span style="transform:scaleX(1.018)">2 Samuel 12-13</span></li><li><b style="transform:scaleX(1.119)">6</b><span style="transform:scaleX(1.036)">2 Samuel  14-16</span></li><li><b style="transform:scaleX(1.065)">7</b><span style="transform:scaleX(1.025)">2 Samuel  17-19</span></li><li><b style="transform:scaleX(1.154)">8</b><span style="transform:scaleX(1.083)">2 Samuel  20-22</span></li><li><b style="transform:scaleX(1.119)">9</b><span style="transform:scaleX(1.083)">2 Samuel  23-24</span></li><li><b style="transform:scaleX(0.941)">10</b><span style="transform:scaleX(1.003)">1 Kings 1-2</span></li><li><b style="transform:scaleX(0.860)">11</b><span style="transform:scaleX(1.042)">1 Kings 3-5</span></li><li><b style="transform:scaleX(0.860)">12</b><span style="transform:scaleX(1.056)">1 Kings 6-7</span></li><li><b style="transform:scaleX(0.860)">13</b><span style="transform:scaleX(1.066)">1 Kings 8-9</span></li><li><b style="transform:scaleX(0.941)">14</b><span style="transform:scaleX(0.992)">1 Kings 10-12</span></li><li><b style="transform:scaleX(0.860)">15</b><span style="transform:scaleX(0.976)">1 Kings 13-15</span></li></ol>
<ol class="lst" style="left:316.3px;top:764.33px;--g:17.2px"><li><b style="transform:scaleX(0.897)">16</b><span style="transform:scaleX(0.997)">1 Kings16-18</span></li><li><b style="transform:scaleX(0.870)">17</b><span style="transform:scaleX(1.032)">1 Kings 19-20</span></li><li><b style="transform:scaleX(0.914)">18</b><span style="transform:scaleX(1.008)">1 Kings 21-22</span></li><li><b style="transform:scaleX(0.897)">19</b><span style="transform:scaleX(1.042)">2 Kings 1-3</span></li><li><b style="transform:scaleX(1.119)">20</b><span style="transform:scaleX(1.101)">2 Kings 4-5</span></li><li><b style="transform:scaleX(0.860)">21</b><span style="transform:scaleX(1.105)">2 Kings 6-8</span></li><li><b style="transform:scaleX(1.030)">22</b><span style="transform:scaleX(1.068)">2 Kings 9-10</span></li><li><b style="transform:scaleX(1.030)">23</b><span style="transform:scaleX(0.988)">2 Kings 11-13</span></li><li><b style="transform:scaleX(1.119)">24</b><span style="transform:scaleX(1.032)">2 Kings 14-16</span></li><li><b style="transform:scaleX(1.030)">25</b><span style="transform:scaleX(1.023)">2 Kings 17-18</span></li><li><b style="transform:scaleX(1.074)">26</b><span style="transform:scaleX(1.016)">2 Kings 19-21</span></li><li><b style="transform:scaleX(1.048)">27</b><span style="transform:scaleX(1.072)">2 Kings 22-23</span></li><li><b style="transform:scaleX(1.092)">28</b><span style="transform:scaleX(1.088)">2 Kings 24-25</span></li><li><b style="transform:scaleX(1.074)">29</b><span style="transform:scaleX(1.035)">1 Chronicles 1-2</span></li><li><b style="transform:scaleX(1.119)">30</b><span style="transform:scaleX(1.075)">1 Chronicles 3-4</span></li></ol>
<section class="panel" style="left:520px;top:665px;width:378.5px;height:374px"></section>
<h2 class="mh" style="left:559.8px;top:702.5px;transform:scaleX(1.157)">May</h2>
<ol class="lst" style="left:527.8px;top:764.33px;--g:16.2px"><li><b style="transform:scaleX(0.860)">1</b><span style="transform:scaleX(1.069)">1 Chronicles 5-6</span></li><li><b style="transform:scaleX(1.030)">2</b><span style="transform:scaleX(1.071)">1 Chronicles 7-9</span></li><li><b style="transform:scaleX(1.030)">3</b><span style="transform:scaleX(1.022)">1 Chronicles 10-12</span></li><li><b style="transform:scaleX(1.207)">4</b><span style="transform:scaleX(1.016)">1 Chronicles 13-16</span></li><li><b style="transform:scaleX(1.030)">5</b><span style="transform:scaleX(1.019)">1 Chronicles 17-19</span></li><li><b style="transform:scaleX(1.119)">6</b><span style="transform:scaleX(1.069)">1 Chronicles 20-23</span></li><li><b style="transform:scaleX(1.065)">7</b><span style="transform:scaleX(1.075)">1 Chronicles 24-26</span></li><li><b style="transform:scaleX(1.154)">8</b><span style="transform:scaleX(1.066)">1 Chronicles 27-29</span></li><li><b style="transform:scaleX(1.119)">9</b><span style="transform:scaleX(1.075)">2 Chronicles 1-4</span></li><li><b style="transform:scaleX(0.941)">10</b><span style="transform:scaleX(1.092)">2 Chronicles 5-7</span></li><li><b style="transform:scaleX(0.860)">11</b><span style="transform:scaleX(1.053)">2 Chronicles 8-11</span></li><li><b style="transform:scaleX(0.860)">12</b><span style="transform:scaleX(1.040)">2 Chronicles 12-16</span></li><li><b style="transform:scaleX(0.860)">13</b><span style="transform:scaleX(1.072)">2 Chronicles 17-20</span></li><li><b style="transform:scaleX(0.941)">14</b><span style="transform:scaleX(1.069)">2 Chronicles 21-24</span></li><li><b style="transform:scaleX(0.860)">15</b><span style="transform:scaleX(1.089)">2 Chronicles 25-28</span></li><li><b style="transform:scaleX(0.897)">16</b><span style="transform:scaleX(1.064)">2 Chronicles 29-31</span></li></ol>
<ol class="lst" style="left:715.3px;top:764.33px;--g:17.7px"><li><b style="transform:scaleX(0.870)">17</b><span style="transform:scaleX(1.093)">2 Chronicles 32-34</span></li><li><b style="transform:scaleX(0.914)">18</b><span style="transform:scaleX(1.087)">2 Chronicles 35-36</span></li><li><b style="transform:scaleX(0.897)">19</b><span style="transform:scaleX(0.998)">Ezra 1-2</span></li><li><b style="transform:scaleX(1.119)">20</b><span style="transform:scaleX(1.056)">Ezra 5-7</span></li><li><b style="transform:scaleX(0.860)">21</b><span style="transform:scaleX(1.041)">Ezra 8-10</span></li><li><b style="transform:scaleX(1.030)">22</b><span style="transform:scaleX(1.093)">Nehemiah 1-3</span></li><li><b style="transform:scaleX(1.030)">23</b><span style="transform:scaleX(1.143)">Nehemiah 4-7</span></li><li><b style="transform:scaleX(1.119)">24</b><span style="transform:scaleX(1.112)">Nehemiah 8-10</span></li><li><b style="transform:scaleX(1.030)">25</b><span style="transform:scaleX(1.040)">Nehemiah 11-13</span></li><li><b style="transform:scaleX(1.074)">26</b><span style="transform:scaleX(1.049)">Esther 1-3</span></li><li><b style="transform:scaleX(1.048)">27</b><span style="transform:scaleX(1.075)">Esther 6-10</span></li><li><b style="transform:scaleX(1.092)">28</b><span style="transform:scaleX(1.051)">Job 1-4</span></li><li><b style="transform:scaleX(1.074)">29</b><span style="transform:scaleX(1.101)">Job 5-8</span></li><li><b style="transform:scaleX(1.119)">30</b><span style="transform:scaleX(1.035)">Job 9-12</span></li><li><b style="transform:scaleX(0.860)">31</b><span style="transform:scaleX(0.990)">Job 13-16</span></li></ol>
<section class="panel" style="left:920px;top:665px;width:378px;height:374px"></section>
<h2 class="mh" style="left:947.0px;top:702.5px;transform:scaleX(1.134)">June</h2>
<ol class="lst" style="left:951.3px;top:764.33px;--g:18.2px"><li><b style="transform:scaleX(0.860)">1</b><span style="transform:scaleX(1.050)">Job 17-20</span></li><li><b style="transform:scaleX(1.030)">2</b><span style="transform:scaleX(1.041)">Job  21-24</span></li><li><b style="transform:scaleX(1.030)">3</b><span style="transform:scaleX(1.082)">Job  25-30</span></li><li><b style="transform:scaleX(1.207)">4</b><span style="transform:scaleX(1.041)">Job  31-34</span></li><li><b style="transform:scaleX(1.030)">5</b><span style="transform:scaleX(1.076)">Job  35-38</span></li><li><b style="transform:scaleX(1.119)">6</b><span style="transform:scaleX(1.093)">Job  39-42</span></li><li><b style="transform:scaleX(1.065)">7</b><span style="transform:scaleX(1.056)">Psalms 1-8</span></li><li><b style="transform:scaleX(1.154)">8</b><span style="transform:scaleX(1.054)">Psalms 9-17</span></li><li><b style="transform:scaleX(1.119)">9</b><span style="transform:scaleX(1.019)">Psalms 18-21</span></li><li><b style="transform:scaleX(0.941)">10</b><span style="transform:scaleX(1.076)">Psalms 22-27</span></li><li><b style="transform:scaleX(0.860)">11</b><span style="transform:scaleX(1.084)">Psalms 28-33</span></li><li><b style="transform:scaleX(0.860)">12</b><span style="transform:scaleX(1.102)">Psalms 340-37</span></li><li><b style="transform:scaleX(0.860)">13</b><span style="transform:scaleX(1.100)">Psalms 38-42</span></li><li><b style="transform:scaleX(0.941)">14</b><span style="transform:scaleX(1.113)">Psalms 43-49</span></li><li><b style="transform:scaleX(0.860)">15</b><span style="transform:scaleX(1.089)">Psalms 50-55</span></li></ol>
<ol class="lst" style="left:1107.8px;top:764.33px;--g:17.7px"><li><b style="transform:scaleX(0.897)">16</b><span style="transform:scaleX(1.056)">Psalms 56-61</span></li><li><b style="transform:scaleX(0.870)">17</b><span style="transform:scaleX(1.100)">Psalms 62-68</span></li><li><b style="transform:scaleX(0.914)">18</b><span style="transform:scaleX(1.092)">Psalms 69-72</span></li><li><b style="transform:scaleX(0.897)">19</b><span style="transform:scaleX(1.082)">Psalms 73-77</span></li><li><b style="transform:scaleX(1.119)">20</b><span style="transform:scaleX(1.114)">Psalms 78-80</span></li><li><b style="transform:scaleX(0.860)">21</b><span style="transform:scaleX(1.074)">Psalms 81-88</span></li><li><b style="transform:scaleX(1.030)">22</b><span style="transform:scaleX(1.116)">Psalms 89-94</span></li><li><b style="transform:scaleX(1.030)">23</b><span style="transform:scaleX(1.062)">Psalms 95-103</span></li><li><b style="transform:scaleX(1.119)">24</b><span style="transform:scaleX(1.059)">Psalms 104-106</span></li><li><b style="transform:scaleX(1.030)">25</b><span style="transform:scaleX(0.993)">Psalms 107-111</span></li><li><b style="transform:scaleX(1.074)">26</b><span style="transform:scaleX(0.986)">Psalms 112-118</span></li><li><b style="transform:scaleX(1.048)">27</b><span style="transform:scaleX(1.020)">Psalms 119</span></li><li><b style="transform:scaleX(1.092)">28</b><span style="transform:scaleX(1.025)">Psalms 120-133</span></li><li><b style="transform:scaleX(1.074)">29</b><span style="transform:scaleX(1.052)">Psalms 134-140</span></li><li><b style="transform:scaleX(1.119)">30</b><span style="transform:scaleX(1.011)">Psalms 141-150</span></li></ol>
<section class="panel" style="left:119px;top:1069px;width:379px;height:373px"></section>
<h2 class="mh" style="left:158.2px;top:1106.5px;transform:scaleX(1.104)">July</h2>
<ol class="lst" style="left:147.8px;top:1168.23px;--g:17.2px"><li><b style="transform:scaleX(0.860)">1</b><span style="transform:scaleX(1.057)">Proverbs 1-3</span></li><li><b style="transform:scaleX(1.030)">2</b><span style="transform:scaleX(1.113)">Proverbs 4-7</span></li><li><b style="transform:scaleX(1.030)">3</b><span style="transform:scaleX(1.047)">Proverbs 8-11</span></li><li><b style="transform:scaleX(1.207)">4</b><span style="transform:scaleX(1.038)">Proverbs 12-14</span></li><li><b style="transform:scaleX(1.030)">5</b><span style="transform:scaleX(1.027)">Proverbs 15-17</span></li><li><b style="transform:scaleX(1.119)">6</b><span style="transform:scaleX(1.077)">Proverbs 18-20</span></li><li><b style="transform:scaleX(1.065)">7</b><span style="transform:scaleX(1.053)">Proverbs 21-23</span></li><li><b style="transform:scaleX(1.154)">8</b><span style="transform:scaleX(1.103)">Proverbs 24-26</span></li><li><b style="transform:scaleX(1.119)">9</b><span style="transform:scaleX(1.092)">Proverbs 27-29</span></li><li><b style="transform:scaleX(0.941)">10</b><span style="transform:scaleX(1.067)">Proverbs 30-31</span></li><li><b style="transform:scaleX(0.860)">11</b><span style="transform:scaleX(1.061)">Ecclesiastes 1-4</span></li><li><b style="transform:scaleX(0.860)">12</b><span style="transform:scaleX(1.084)">Ecclesiastes 5-8</span></li><li><b style="transform:scaleX(0.860)">13</b><span style="transform:scaleX(1.052)">Ecclesiastes 9-12</span></li><li><b style="transform:scaleX(0.941)">14</b><span style="transform:scaleX(1.095)">Song of Solomon 1-4</span></li><li><b style="transform:scaleX(0.860)">15</b><span style="transform:scaleX(1.109)">Song of Solomon  5-8</span></li><li><b style="transform:scaleX(0.897)">16</b><span style="transform:scaleX(1.025)">Isiah 1-3</span></li></ol>
<ol class="lst" style="left:335.8px;top:1168.23px;--g:17.7px"><li><b style="transform:scaleX(0.870)">17</b><span style="transform:scaleX(1.120)">Isiah 4-8</span></li><li><b style="transform:scaleX(0.914)">18</b><span style="transform:scaleX(1.009)">Isiah 9-11</span></li><li><b style="transform:scaleX(0.897)">19</b><span style="transform:scaleX(1.006)">Isiah 12-14</span></li><li><b style="transform:scaleX(1.119)">20</b><span style="transform:scaleX(0.996)">Isiah 15-19</span></li><li><b style="transform:scaleX(0.860)">21</b><span style="transform:scaleX(1.106)">Isiah 20-24</span></li><li><b style="transform:scaleX(1.030)">22</b><span style="transform:scaleX(1.080)">Isiah 25-28</span></li><li><b style="transform:scaleX(1.030)">23</b><span style="transform:scaleX(1.036)">Isiah 29-31</span></li><li><b style="transform:scaleX(1.119)">24</b><span style="transform:scaleX(1.086)">Isiah 32-34</span></li><li><b style="transform:scaleX(1.030)">25</b><span style="transform:scaleX(1.070)">Isiah 35-37</span></li><li><b style="transform:scaleX(1.074)">26</b><span style="transform:scaleX(1.120)">Isiah 38-40</span></li><li><b style="transform:scaleX(1.048)">27</b><span style="transform:scaleX(1.066)">Isiah 41-43</span></li><li><b style="transform:scaleX(1.092)">28</b><span style="transform:scaleX(1.136)">Isiah 44-46</span></li><li><b style="transform:scaleX(1.074)">29</b><span style="transform:scaleX(1.120)">Isiah 47-49</span></li><li><b style="transform:scaleX(1.119)">30</b><span style="transform:scaleX(1.086)">Isiah 50-52</span></li><li><b style="transform:scaleX(0.860)">31</b><span style="transform:scaleX(1.076)">Isiah 53-56</span></li></ol>
<section class="panel" style="left:520px;top:1069px;width:378px;height:373px"></section>
<h2 class="mh" style="left:548.0px;top:1106.5px;transform:scaleX(1.119)">August</h2>
<ol class="lst" style="left:536.8px;top:1168.23px;--g:17.2px"><li><b style="transform:scaleX(0.860)">1</b><span style="transform:scaleX(1.080)">Isiah 57-59</span></li><li><b style="transform:scaleX(1.030)">2</b><span style="transform:scaleX(1.106)">Isiah 60-63</span></li><li><b style="transform:scaleX(1.030)">3</b><span style="transform:scaleX(1.116)">Isiah 64-66</span></li><li><b style="transform:scaleX(1.207)">4</b><span style="transform:scaleX(1.081)">Jeremiah 1-3</span></li><li><b style="transform:scaleX(1.030)">5</b><span style="transform:scaleX(1.132)">Jeremiah 4-5</span></li><li><b style="transform:scaleX(1.119)">6</b><span style="transform:scaleX(1.135)">Jeremiah 6-8</span></li><li><b style="transform:scaleX(1.065)">7</b><span style="transform:scaleX(1.066)">Jeremiah 9-11</span></li><li><b style="transform:scaleX(1.154)">8</b><span style="transform:scaleX(1.059)">Jeremiah 12-14</span></li><li><b style="transform:scaleX(1.119)">9</b><span style="transform:scaleX(1.047)">Jeremiah 15-17</span></li><li><b style="transform:scaleX(0.941)">10</b><span style="transform:scaleX(1.055)">Jeremiah 18-21</span></li><li><b style="transform:scaleX(0.860)">11</b><span style="transform:scaleX(1.116)">Jeremiah 22-24</span></li><li><b style="transform:scaleX(0.860)">12</b><span style="transform:scaleX(1.104)">Jeremiah 25-27</span></li><li><b style="transform:scaleX(0.860)">13</b><span style="transform:scaleX(1.126)">Jeremiah 28-30</span></li><li><b style="transform:scaleX(0.941)">14</b><span style="transform:scaleX(1.073)">Jeremiah 31-32</span></li><li><b style="transform:scaleX(0.860)">15</b><span style="transform:scaleX(1.109)">Jeremiah 33-36</span></li><li><b style="transform:scaleX(0.897)">16</b><span style="transform:scaleX(1.111)">Jeremiah 37-39</span></li></ol>
<ol class="lst" style="left:707.8px;top:1168.23px;--g:17.7px"><li><b style="transform:scaleX(0.870)">17</b><span style="transform:scaleX(1.144)">Jeremiah 40-43</span></li><li><b style="transform:scaleX(0.914)">18</b><span style="transform:scaleX(1.151)">Jeremiah 44-46</span></li><li><b style="transform:scaleX(0.897)">19</b><span style="transform:scaleX(1.143)">Jeremiah 47-48</span></li><li><b style="transform:scaleX(1.119)">20</b><span style="transform:scaleX(1.139)">Jeremiah 49</span></li><li><b style="transform:scaleX(0.860)">21</b><span style="transform:scaleX(1.131)">Jeremiah 50</span></li><li><b style="transform:scaleX(1.030)">22</b><span style="transform:scaleX(1.073)">Jeremiah 51-52</span></li><li><b style="transform:scaleX(1.030)">23</b><span style="transform:scaleX(1.108)">Lamentations 1-2</span></li><li><b style="transform:scaleX(1.119)">24</b><span style="transform:scaleX(1.134)">Lamentations 3-5</span></li><li><b style="transform:scaleX(1.030)">25</b><span style="transform:scaleX(1.060)">Ezekiel 1-4</span></li><li><b style="transform:scaleX(1.074)">26</b><span style="transform:scaleX(1.094)">Ezekiel 5-8</span></li><li><b style="transform:scaleX(1.048)">27</b><span style="transform:scaleX(1.048)">Ezekiel 9-12</span></li><li><b style="transform:scaleX(1.092)">28</b><span style="transform:scaleX(1.006)">Ezekiel 13-15</span></li><li><b style="transform:scaleX(1.074)">29</b><span style="transform:scaleX(1.017)">Ezekiel 16-17</span></li><li><b style="transform:scaleX(1.119)">30</b><span style="transform:scaleX(1.066)">Ezekiel 18-20</span></li><li><b style="transform:scaleX(0.860)">31</b><span style="transform:scaleX(1.038)">Ezekiel 21-22</span></li></ol>
<section class="panel" style="left:920px;top:1069px;width:378px;height:373px"></section>
<h2 class="mh" style="left:962.0px;top:1106.5px;transform:scaleX(1.141)">September</h2>
<ol class="lst" style="left:951.3px;top:1168.23px;--g:18.2px"><li><b style="transform:scaleX(0.860)">1</b><span style="transform:scaleX(1.087)">Ezekiel 23-24</span></li><li><b style="transform:scaleX(1.030)">2</b><span style="transform:scaleX(1.074)">Ezekiel 25-27</span></li><li><b style="transform:scaleX(1.030)">3</b><span style="transform:scaleX(1.098)">Ezekiel 28-30</span></li><li><b style="transform:scaleX(1.207)">4</b><span style="transform:scaleX(1.038)">Ezekiel 31-32</span></li><li><b style="transform:scaleX(1.030)">5</b><span style="transform:scaleX(1.071)">Ezekiel 33-35</span></li><li><b style="transform:scaleX(1.119)">6</b><span style="transform:scaleX(1.090)">Ezekiel 36-38</span></li><li><b style="transform:scaleX(1.065)">7</b><span style="transform:scaleX(1.112)">Ezekiel 39-40</span></li><li><b style="transform:scaleX(1.154)">8</b><span style="transform:scaleX(1.071)">Ezekiel 41-43</span></li><li><b style="transform:scaleX(1.119)">9</b><span style="transform:scaleX(1.128)">Ezekiel 44-46</span></li><li><b style="transform:scaleX(0.941)">10</b><span style="transform:scaleX(1.118)">Ezekiel 47-48</span></li><li><b style="transform:scaleX(0.860)">11</b><span style="transform:scaleX(1.062)">Daniel 1-3</span></li><li><b style="transform:scaleX(0.860)">12</b><span style="transform:scaleX(1.127)">Daniel 4-5</span></li><li><b style="transform:scaleX(0.860)">13</b><span style="transform:scaleX(1.131)">Daniel 6-8</span></li><li><b style="transform:scaleX(0.941)">14</b><span style="transform:scaleX(1.068)">Daniel 9-12</span></li><li><b style="transform:scaleX(0.860)">15</b><span style="transform:scaleX(1.042)">Hosea 1-4</span></li></ol>
<ol class="lst" style="left:1109.8px;top:1168.23px;--g:17.7px"><li><b style="transform:scaleX(0.897)">16</b><span style="transform:scaleX(1.068)">Hosea  5-9</span></li><li><b style="transform:scaleX(0.870)">17</b><span style="transform:scaleX(1.020)">Hosea  10-14</span></li><li><b style="transform:scaleX(0.914)">18</b><span style="transform:scaleX(1.016)">Joel 1-3</span></li><li><b style="transform:scaleX(0.897)">19</b><span style="transform:scaleX(1.071)">Amos 1-4</span></li><li><b style="transform:scaleX(1.119)">20</b><span style="transform:scaleX(1.105)">Amos 5-9</span></li><li><b style="transform:scaleX(0.860)">21</b><span style="transform:scaleX(1.074)">Obadiah 1</span></li><li><b style="transform:scaleX(1.030)">22</b><span style="transform:scaleX(1.072)">Jonah 1-4</span></li><li><b style="transform:scaleX(1.030)">23</b><span style="transform:scaleX(1.082)">Micah 1-4</span></li><li><b style="transform:scaleX(1.119)">24</b><span style="transform:scaleX(1.109)">Micah 5-7</span></li><li><b style="transform:scaleX(1.030)">25</b><span style="transform:scaleX(1.089)">NNahum 1-3</span></li><li><b style="transform:scaleX(1.074)">26</b><span style="transform:scaleX(1.095)">Habakkuk 1-3</span></li><li><b style="transform:scaleX(1.048)">27</b><span style="transform:scaleX(1.087)">Zephaniah 1-3</span></li><li><b style="transform:scaleX(1.092)">28</b><span style="transform:scaleX(1.068)">Haggai 1-2</span></li><li><b style="transform:scaleX(1.074)">29</b><span style="transform:scaleX(1.076)">Zechariah 1-5</span></li><li><b style="transform:scaleX(1.119)">30</b><span style="transform:scaleX(1.094)">Zechariah 6-10</span></li></ol>
<section class="panel" style="left:119px;top:1472px;width:379px;height:374px"></section>
<h2 class="mh" style="left:158.8px;top:1509.5px;transform:scaleX(1.130)">October</h2>
<ol class="lst" style="left:158.8px;top:1569.43px;--g:17.2px"><li><b style="transform:scaleX(0.860)">1</b><span style="transform:scaleX(1.038)">Zechariah 11-14</span></li><li><b style="transform:scaleX(1.030)">2</b><span style="transform:scaleX(1.087)">Malachi 1-4</span></li><li><b style="transform:scaleX(1.030)">3</b><span style="transform:scaleX(1.127)">Matthew 1-4</span></li><li><b style="transform:scaleX(1.207)">4</b><span style="transform:scaleX(1.154)">Matthew 5-6</span></li><li><b style="transform:scaleX(1.030)">5</b><span style="transform:scaleX(1.158)">Matthew 7-9</span></li><li><b style="transform:scaleX(1.119)">6</b><span style="transform:scaleX(1.063)">Matthew 10-11</span></li><li><b style="transform:scaleX(1.065)">7</b><span style="transform:scaleX(1.066)">Matthew 12-13</span></li><li><b style="transform:scaleX(1.154)">8</b><span style="transform:scaleX(1.084)">Matthew 14-17</span></li><li><b style="transform:scaleX(1.119)">9</b><span style="transform:scaleX(1.121)">Matthew 18-20</span></li><li><b style="transform:scaleX(0.941)">10</b><span style="transform:scaleX(1.096)">Matthew 21-22</span></li><li><b style="transform:scaleX(0.860)">11</b><span style="transform:scaleX(1.141)">Matthew 23-24</span></li><li><b style="transform:scaleX(0.860)">12</b><span style="transform:scaleX(1.133)">Matthew 25-26</span></li><li><b style="transform:scaleX(0.860)">13</b><span style="transform:scaleX(1.139)">Matthew 27-28</span></li><li><b style="transform:scaleX(0.941)">14</b><span style="transform:scaleX(1.054)">Mark 1-3</span></li><li><b style="transform:scaleX(0.860)">15</b><span style="transform:scaleX(1.129)">Mark 4-5</span></li><li><b style="transform:scaleX(0.897)">16</b><span style="transform:scaleX(1.111)">Mark  6-7</span></li></ol>
<ol class="lst" style="left:327.8px;top:1569.43px;--g:17.2px"><li><b style="transform:scaleX(0.870)">17</b><span style="transform:scaleX(1.122)">Mark  8-9</span></li><li><b style="transform:scaleX(0.914)">18</b><span style="transform:scaleX(1.002)">Mark  10-11</span></li><li><b style="transform:scaleX(0.897)">19</b><span style="transform:scaleX(1.007)">Mark  12-12</span></li><li><b style="transform:scaleX(1.119)">20</b><span style="transform:scaleX(1.064)">Mark  14</span></li><li><b style="transform:scaleX(0.860)">21</b><span style="transform:scaleX(1.016)">Mark  15-16</span></li><li><b style="transform:scaleX(1.030)">22</b><span style="transform:scaleX(1.043)">Luke 1-2</span></li><li><b style="transform:scaleX(1.030)">23</b><span style="transform:scaleX(1.119)">Luke 3-4</span></li><li><b style="transform:scaleX(1.119)">24</b><span style="transform:scaleX(1.106)">Luke 5-6</span></li><li><b style="transform:scaleX(1.030)">25</b><span style="transform:scaleX(1.117)">Luke 7-8</span></li><li><b style="transform:scaleX(1.074)">26</b><span style="transform:scaleX(1.075)">Luke 9-10</span></li><li><b style="transform:scaleX(1.048)">27</b><span style="transform:scaleX(0.976)">Luke 11-12</span></li><li><b style="transform:scaleX(1.092)">28</b><span style="transform:scaleX(1.001)">Luke 13-15</span></li><li><b style="transform:scaleX(1.074)">29</b><span style="transform:scaleX(1.024)">Luke 16-18</span></li><li><b style="transform:scaleX(1.119)">30</b><span style="transform:scaleX(1.070)">Luke 19-20</span></li><li><b style="transform:scaleX(0.860)">31</b><span style="transform:scaleX(1.040)">Luke 21-22</span></li></ol>
<section class="panel" style="left:520px;top:1472px;width:378px;height:374px"></section>
<h2 class="mh" style="left:545.5px;top:1509.5px;transform:scaleX(1.129)">November</h2>
<ol class="lst" style="left:554.3px;top:1569.43px;--g:17.2px"><li><b style="transform:scaleX(0.860)">1</b><span style="transform:scaleX(1.099)">Luke 23-24</span></li><li><b style="transform:scaleX(1.030)">2</b><span style="transform:scaleX(1.048)">John 1-2</span></li><li><b style="transform:scaleX(1.030)">3</b><span style="transform:scaleX(1.124)">John 3-4</span></li><li><b style="transform:scaleX(1.207)">4</b><span style="transform:scaleX(1.111)">John 5-6</span></li><li><b style="transform:scaleX(1.030)">5</b><span style="transform:scaleX(1.122)">John 7-8</span></li><li><b style="transform:scaleX(1.119)">6</b><span style="transform:scaleX(1.079)">John 9-10</span></li><li><b style="transform:scaleX(1.065)">7</b><span style="transform:scaleX(0.980)">John 11-12</span></li><li><b style="transform:scaleX(1.154)">8</b><span style="transform:scaleX(1.004)">John 13-15</span></li><li><b style="transform:scaleX(1.119)">9</b><span style="transform:scaleX(1.018)">John 16-17</span></li><li><b style="transform:scaleX(0.941)">10</b><span style="transform:scaleX(1.028)">John 18-19</span></li><li><b style="transform:scaleX(0.860)">11</b><span style="transform:scaleX(1.064)">John 20-21</span></li><li><b style="transform:scaleX(0.860)">12</b><span style="transform:scaleX(1.031)">Acts 1-3</span></li><li><b style="transform:scaleX(0.860)">13</b><span style="transform:scaleX(1.112)">Acts 4-5</span></li><li><b style="transform:scaleX(0.941)">14</b><span style="transform:scaleX(1.104)">Acts 6-7</span></li><li><b style="transform:scaleX(0.860)">15</b><span style="transform:scaleX(1.117)">Acts 8-9</span></li></ol>
<ol class="lst" style="left:707.8px;top:1569.43px;--g:17.7px"><li><b style="transform:scaleX(0.897)">16</b><span style="transform:scaleX(0.984)">Acts 10-11</span></li><li><b style="transform:scaleX(0.870)">17</b><span style="transform:scaleX(0.990)">Acts 12-13</span></li><li><b style="transform:scaleX(0.914)">18</b><span style="transform:scaleX(1.010)">Acts 14-15</span></li><li><b style="transform:scaleX(0.897)">19</b><span style="transform:scaleX(1.004)">Acts 16-17</span></li><li><b style="transform:scaleX(1.119)">20</b><span style="transform:scaleX(1.014)">Acts 18-19</span></li><li><b style="transform:scaleX(0.860)">21</b><span style="transform:scaleX(1.051)">Acts 20-21</span></li><li><b style="transform:scaleX(1.030)">22</b><span style="transform:scaleX(1.072)">Acts 22-23</span></li><li><b style="transform:scaleX(1.030)">23</b><span style="transform:scaleX(1.103)">Acts 24-26</span></li><li><b style="transform:scaleX(1.119)">24</b><span style="transform:scaleX(1.091)">Acts 27-28</span></li><li><b style="transform:scaleX(1.030)">25</b><span style="transform:scaleX(1.055)">Romans 1-3</span></li><li><b style="transform:scaleX(1.074)">26</b><span style="transform:scaleX(1.113)">Romans 4-7</span></li><li><b style="transform:scaleX(1.048)">27</b><span style="transform:scaleX(1.081)">Romans 8-10</span></li><li><b style="transform:scaleX(1.092)">28</b><span style="transform:scaleX(1.017)">Romans 11-14</span></li><li><b style="transform:scaleX(1.074)">29</b><span style="transform:scaleX(1.028)">Romans 15-16</span></li><li><b style="transform:scaleX(1.119)">30</b><span style="transform:scaleX(1.069)">1 Corinthians 1-4</span></li></ol>
<section class="panel" style="left:920px;top:1472px;width:378px;height:374px"></section>
<h2 class="mh" style="left:958.2px;top:1509.5px;transform:scaleX(1.137)">December</h2>
<ol class="lst" style="left:917.8px;top:1569.43px;--g:16.2px"><li><b style="transform:scaleX(0.860)">1</b><span style="transform:scaleX(1.088)">1 Corinthians 5-9</span></li><li><b style="transform:scaleX(1.030)">2</b><span style="transform:scaleX(1.041)">1 Corinthians 10-13</span></li><li><b style="transform:scaleX(1.030)">3</b><span style="transform:scaleX(1.047)">1 Corinthians 14-16</span></li><li><b style="transform:scaleX(1.207)">4</b><span style="transform:scaleX(1.094)">2 Corinthians 1-4</span></li><li><b style="transform:scaleX(1.030)">5</b><span style="transform:scaleX(1.114)">2 Corinthians 5-9</span></li><li><b style="transform:scaleX(1.119)">6</b><span style="transform:scaleX(1.064)">2 Corinthians 10-13</span></li><li><b style="transform:scaleX(1.065)">7</b><span style="transform:scaleX(1.053)">Galatians 1-3</span></li><li><b style="transform:scaleX(1.154)">8</b><span style="transform:scaleX(1.111)">Galatians 4-6</span></li><li><b style="transform:scaleX(1.119)">9</b><span style="transform:scaleX(1.053)">Ephesians 1-3</span></li><li><b style="transform:scaleX(0.941)">10</b><span style="transform:scaleX(1.108)">Ephesians 4-6</span></li><li><b style="transform:scaleX(0.860)">11</b><span style="transform:scaleX(1.111)">Philippians 1-4</span></li><li><b style="transform:scaleX(0.860)">12</b><span style="transform:scaleX(1.051)">Colossians 1-4</span></li><li><b style="transform:scaleX(0.860)">13</b><span style="transform:scaleX(1.034)">1 Thessalonians 1-5</span></li><li><b style="transform:scaleX(0.941)">14</b><span style="transform:scaleX(1.056)">2 Thessalonians 1-3</span></li><li><b style="transform:scaleX(0.860)">15</b><span style="transform:scaleX(1.064)">1 Timothy 1-6</span></li><li><b style="transform:scaleX(0.897)">16</b><span style="transform:scaleX(1.105)">2 Timothy 1-4</span></li></ol>
<ol class="lst" style="left:1102.3px;top:1569.43px;--g:18.2px"><li><b style="transform:scaleX(0.870)">17</b><span style="transform:scaleX(1.069)">Titus 1-3; Philemon 1</span></li><li><b style="transform:scaleX(0.914)">18</b><span style="transform:scaleX(1.085)">Hebrews 1-4</span></li><li><b style="transform:scaleX(0.897)">19</b><span style="transform:scaleX(1.115)">Hebrews 5-8</span></li><li><b style="transform:scaleX(1.119)">20</b><span style="transform:scaleX(1.088)">Hebrews 9-10</span></li><li><b style="transform:scaleX(0.860)">21</b><span style="transform:scaleX(1.014)">Hebrews 11-13</span></li><li><b style="transform:scaleX(1.030)">22</b><span style="transform:scaleX(1.039)">James 1-5</span></li><li><b style="transform:scaleX(1.030)">23</b><span style="transform:scaleX(1.019)">1 Peter 1-5; 2 Peter 1-3</span></li><li><b style="transform:scaleX(1.119)">24</b><span style="transform:scaleX(0.999)">1 John 1-5</span></li><li><b style="transform:scaleX(1.030)">25</b><span style="transform:scaleX(1.063)">2 John; 3 John; Jude 1</span></li><li><b style="transform:scaleX(1.074)">26</b><span style="transform:scaleX(1.072)">Revelation 1-3</span></li><li><b style="transform:scaleX(1.048)">27</b><span style="transform:scaleX(1.121)">Revelation 4-7</span></li><li><b style="transform:scaleX(1.092)">28</b><span style="transform:scaleX(1.062)">Revelation 8-11</span></li><li><b style="transform:scaleX(1.074)">29</b><span style="transform:scaleX(1.053)">Revelation 12-14</span></li><li><b style="transform:scaleX(1.119)">30</b><span style="transform:scaleX(1.049)">Revelation 15-18</span></li><li><b style="transform:scaleX(0.860)">31</b><span style="transform:scaleX(1.072)">Revelation 19-22</span></li></ol>
</div></body></html>
